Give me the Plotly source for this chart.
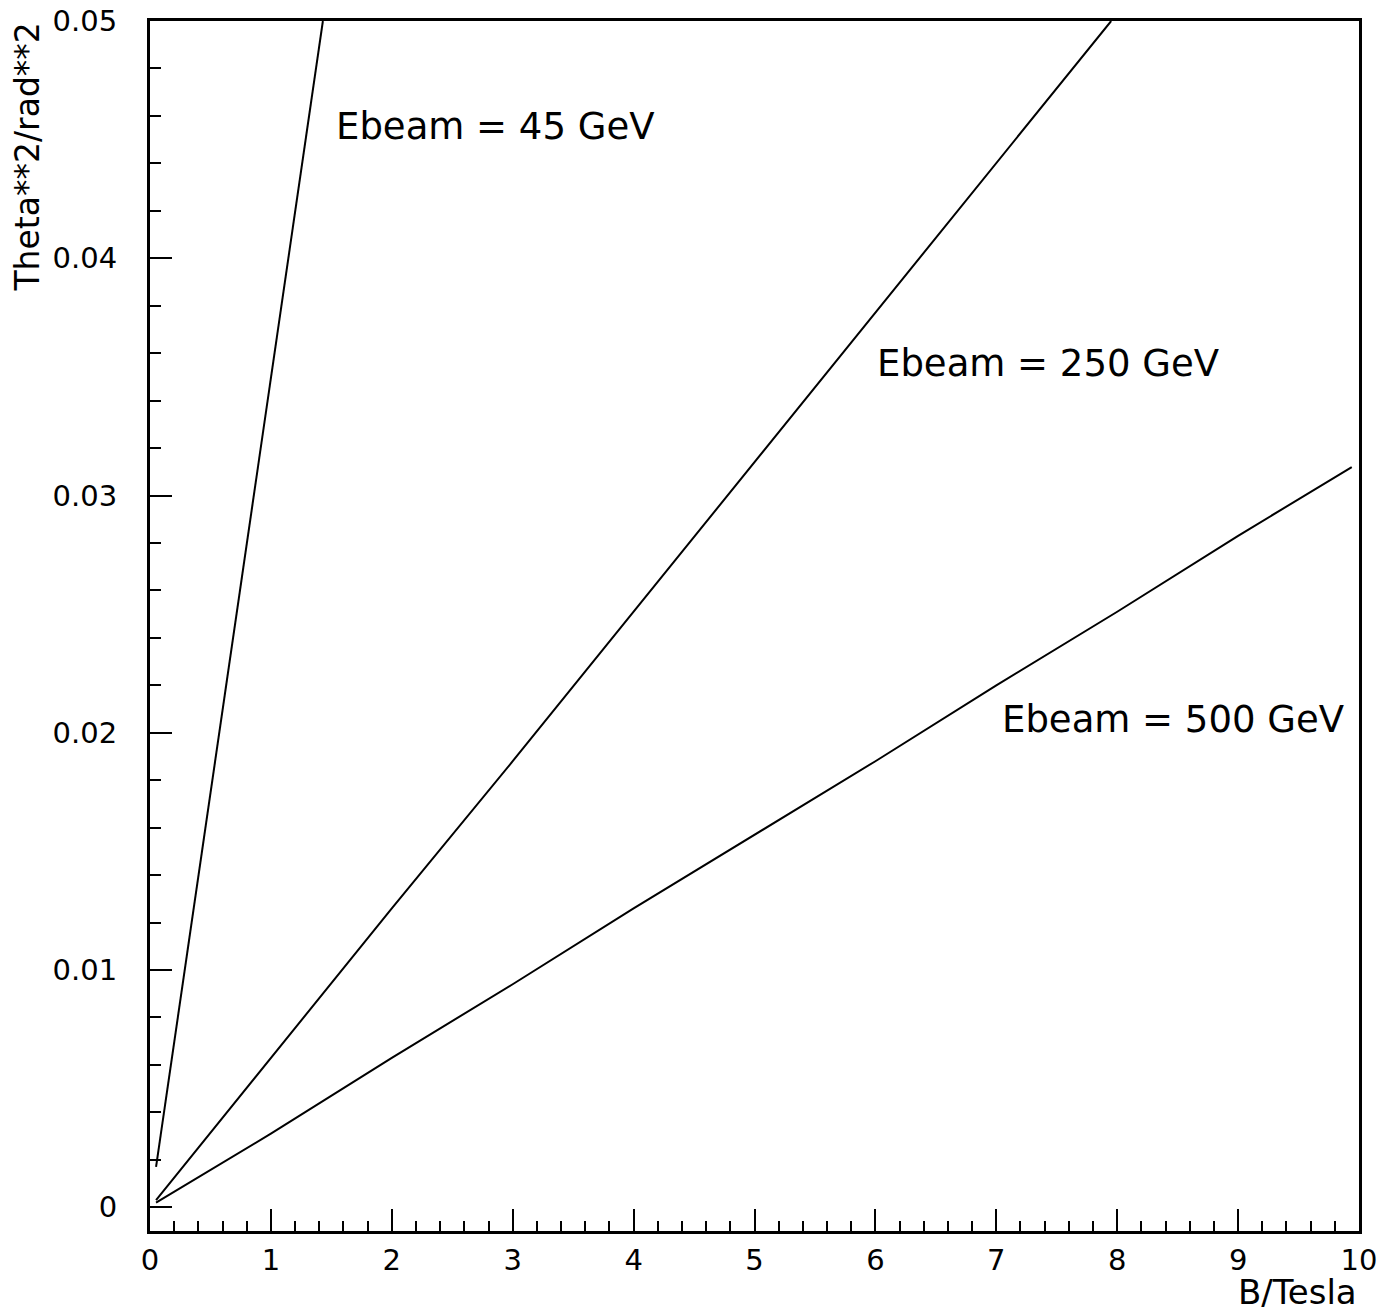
import plotly.graph_objects as go

# Data
B_45 = [0.05, 0.5, 1.0, 1.43]
T_45 = [0.0017, 0.0174, 0.0349, 0.0500]

B_250 = [0.05, 1, 2, 3, 4, 5, 6, 7, 7.95]
T_250 = [0.0003, 0.0063, 0.0126, 0.0188, 0.0251, 0.0314, 0.0377, 0.0440, 0.0500]

B_500 = [0.05, 1, 2, 3, 4, 5, 6, 7, 8, 9, 9.94]
T_500 = [0.0002, 0.0031, 0.0063, 0.0094, 0.0126, 0.0157, 0.0188, 0.0220, 0.0251, 0.0283, 0.0312]

labels = ["Ebeam = 45 GeV", "Ebeam = 250 GeV", "Ebeam = 500 GeV"]
label_x = [1.52, 6.0, 7.03]
label_y = [0.04556, 0.03555, 0.02057]

x_title = "B/Tesla"
y_title = "Theta**2/rad**2"

FONT = "DejaVu Sans"

fig = go.Figure()
for bx, ty in [(B_45, T_45), (B_250, T_250), (B_500, T_500)]:
    fig.add_trace(go.Scatter(x=bx, y=ty, mode="lines",
                             line=dict(color="black", width=2), showlegend=False))

for t, x, y in zip(labels, label_x, label_y):
    fig.add_annotation(x=x, y=y, xref="x", yref="y", text=t, showarrow=False,
                       xanchor="left", yanchor="middle",
                       font=dict(family=FONT, size=37, color="black"))

fig.add_annotation(x=1.0, y=-0.0504, xref="paper", yref="paper", text=x_title,
                   showarrow=False, xanchor="right", yanchor="middle",
                   font=dict(family=FONT, size=34, color="black"))
fig.add_annotation(x=-0.1017, y=1.0, xref="paper", yref="paper", text=y_title,
                   showarrow=False, xanchor="center", yanchor="top", textangle=-90,
                   font=dict(family=FONT, size=33, color="black"))

axis_common = dict(showline=True, linecolor="black", linewidth=3, mirror=True,
                   showgrid=False, zeroline=False, ticks="inside",
                   tickcolor="black", tickwidth=1.5, ticklen=22, automargin=False,
                   tickfont=dict(family=FONT, size=29, color="black"))

fig.update_xaxes(range=[0, 10], dtick=1, tick0=0,
                 minor=dict(dtick=0.2, ticks="inside", ticklen=10,
                            tickcolor="black", tickwidth=1.5),
                 ticklabelstandoff=1, **axis_common)
fig.update_yaxes(range=[-0.001, 0.05], dtick=0.01, tick0=0,
                 minor=dict(dtick=0.002, ticks="inside", ticklen=11,
                            tickcolor="black", tickwidth=1.5),
                 ticklabelstandoff=24, **axis_common)

fig.update_layout(width=1397, height=1315,
                  margin=dict(l=150, r=38, t=21, b=84),
                  plot_bgcolor="white", paper_bgcolor="white",
                  font=dict(family=FONT, color="black"))

fig.write_html("out.html")
